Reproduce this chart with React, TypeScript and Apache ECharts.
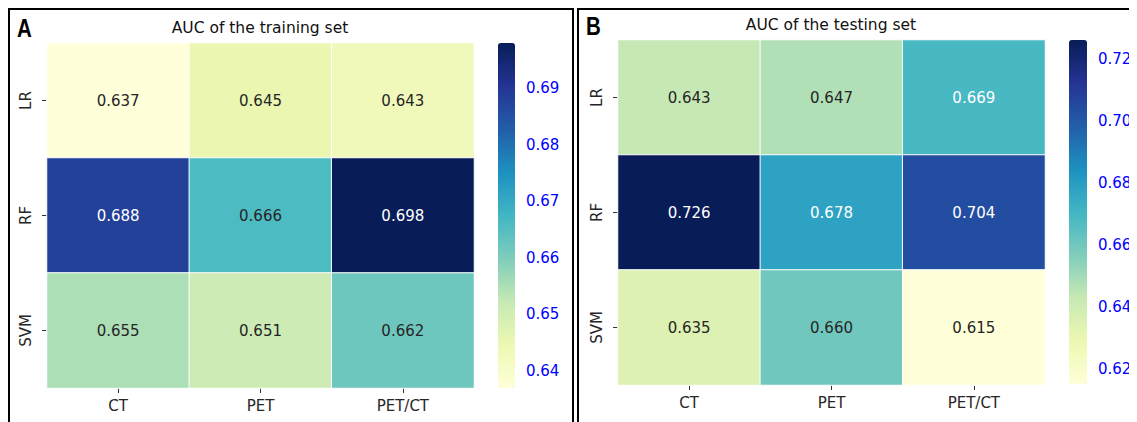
import React, { useEffect, useRef } from 'react';
import * as echarts from 'echarts';

const models = ['LR', 'RF', 'SVM'];
const modalities = ['CT', 'PET', 'PET/CT'];

const trainLR = [0.637, 0.645, 0.643];
const trainRF = [0.688, 0.666, 0.698];
const trainSVM = [0.655, 0.651, 0.662];

const testLR = [0.643, 0.647, 0.669];
const testRF = [0.726, 0.678, 0.704];
const testSVM = [0.635, 0.66, 0.615];

const trainTicks = [0.64, 0.65, 0.66, 0.67, 0.68, 0.69];
const testTicks = [0.62, 0.64, 0.66, 0.68, 0.7, 0.72];

const trainTitle = 'AUC of the training set';
const testTitle = 'AUC of the testing set';

const YLGNBU = ['#ffffd9', '#edf8b1', '#c7e9b4', '#7fcdbb', '#41b6c4', '#1d91c0', '#225ea8', '#253494', '#081d58'];

function hexToRgb(h: string) {
  return [parseInt(h.slice(1, 3), 16), parseInt(h.slice(3, 5), 16), parseInt(h.slice(5, 7), 16)];
}
function cmap(t: number) {
  const n = YLGNBU.length - 1;
  const p = Math.max(0, Math.min(1, t)) * n;
  const i = Math.min(n - 1, Math.floor(p));
  const f = p - i;
  const a = hexToRgb(YLGNBU[i]);
  const b = hexToRgb(YLGNBU[i + 1]);
  return a.map((v, k) => v + (b[k] - v) * f);
}
function lum(rgb: number[]) {
  const c = rgb.map((v) => {
    const s = v / 255;
    return s <= 0.03928 ? s / 12.92 : Math.pow((s + 0.055) / 1.055, 2.4);
  });
  return 0.2126 * c[0] + 0.7152 * c[1] + 0.0722 * c[2];
}

function buildData(rows: number[][]) {
  const all = rows.flat();
  const min = Math.min(...all);
  const max = Math.max(...all);
  const data: any[] = [];
  rows.forEach((row, ri) => {
    row.forEach((v, ci) => {
      const l = lum(cmap((v - min) / (max - min)));
      data.push({ value: [ci, ri, v], label: { color: l > 0.408 ? '#262626' : '#ffffff' } });
    });
  });
  return { data, min, max };
}

const FONT = 'DejaVu Sans';

export default function App() {
  const ref = useRef<HTMLDivElement>(null);
  useEffect(() => {
    if (!ref.current) return;
    const chart = echarts.init(ref.current, null, { renderer: 'svg' });
    const A = buildData([trainLR, trainRF, trainSVM]);
    const B = buildData([testLR, testRF, testSVM]);

    const gA = { left: 47, top: 43, width: 427, height: 345 };
    const gB = { left: 618, top: 40, width: 427, height: 345 };
    const cA = { left: 498, top: 43, width: 17, height: 345 };
    const cB = { left: 1069, top: 40, width: 18, height: 344 };

    const catX = (gi: number) => ({
      type: 'category',
      gridIndex: gi,
      data: modalities,
      axisLine: { show: false },
      axisTick: { show: true, alignWithLabel: true, length: 5, lineStyle: { color: '#333' } },
      axisLabel: { fontSize: 15, color: '#262626', margin: 10, fontFamily: FONT },
      splitLine: { show: false },
    });
    const catY = (gi: number) => ({
      type: 'category',
      gridIndex: gi,
      data: models,
      inverse: true,
      axisLine: { show: false },
      axisTick: { show: true, alignWithLabel: true, length: 5, lineStyle: { color: '#333' } },
      axisLabel: { fontSize: 15, color: '#262626', margin: 14, rotate: 90, fontFamily: FONT },
      splitLine: { show: false },
    });
    const cbY = (gi: number, min: number, max: number, ticks: number[]) => ({
      type: 'value',
      gridIndex: gi,
      position: 'right',
      min,
      max,
      axisLine: { show: false },
      splitLine: { show: false },
      axisTick: { show: true, length: 5, lineStyle: { color: '#333' }, customValues: ticks },
      axisLabel: {
        show: true,
        customValues: ticks,
        color: '#0000ff',
        fontSize: 15,
        margin: 11,
        fontFamily: FONT,
        formatter: (v: number) => v.toFixed(2),
      },
    });
    const cbX = (gi: number) => ({ type: 'value', gridIndex: gi, show: false, min: 0, max: 1 });

    const hm = (gi: number, d: any) => ({
      type: 'heatmap',
      xAxisIndex: gi,
      yAxisIndex: gi,
      data: d.data,
      label: {
        show: true,
        fontSize: 15,
        fontFamily: FONT,
        formatter: (p: any) => p.value[2].toFixed(3),
      },
      itemStyle: { borderColor: '#ffffff', borderWidth: 1 },
      emphasis: { disabled: true },
    });

    const vm = (si: number, d: any, c: any) => ({
      type: 'continuous',
      seriesIndex: si,
      min: d.min,
      max: d.max,
      inRange: { color: YLGNBU },
      left: c.left,
      top: c.top,
      itemWidth: c.width,
      itemHeight: c.height,
      padding: 0,
      calculable: false,
      hoverLink: false,
      realtime: false,
      text: undefined,
      textStyle: { color: 'transparent', fontSize: 0 },
    });

    chart.setOption({
      animation: false,
      textStyle: { fontFamily: FONT },
      tooltip: { show: false },
      grid: [
        { ...gA, containLabel: false },
        { ...gB, containLabel: false },
        { ...cA, containLabel: false },
        { ...cB, containLabel: false },
      ],
      xAxis: [catX(0), catX(1), cbX(2), cbX(3)],
      yAxis: [catY(0), catY(1), cbY(2, A.min, A.max, trainTicks), cbY(3, B.min, B.max, testTicks)],
      visualMap: [vm(0, A, cA), vm(1, B, cB)],
      series: [hm(0, A), hm(1, B)],
      graphic: [
        { type: 'rect', shape: { x: 9, y: 9, width: 564, height: 500 }, style: { fill: 'none', stroke: '#000', lineWidth: 2 }, silent: true },
        { type: 'rect', shape: { x: 578, y: 9, width: 600, height: 500 }, style: { fill: 'none', stroke: '#000', lineWidth: 2 }, silent: true },
        { type: 'text', x: 17, y: 28, scaleX: 0.82, style: { text: 'A', font: 'bold 25px "Liberation Sans"', fill: '#000', textVerticalAlign: 'middle' }, silent: true },
        { type: 'text', x: 586, y: 26.5, scaleX: 0.82, style: { text: 'B', font: 'bold 25px "Liberation Sans"', fill: '#000', textVerticalAlign: 'middle' }, silent: true },
        { type: 'text', x: 260, y: 28, style: { text: trainTitle, font: '15.5px "DejaVu Sans"', fill: '#111', textAlign: 'center', textVerticalAlign: 'middle' }, silent: true },
        { type: 'text', x: 831, y: 25, style: { text: testTitle, font: '15.5px "DejaVu Sans"', fill: '#111', textAlign: 'center', textVerticalAlign: 'middle' }, silent: true },
      ],
    });
    return () => chart.dispose();
  }, []);
  return <div ref={ref} style={{ position: 'relative', margin: '-8px 0 0 -8px', width: 1137, height: 422, background: '#fff' }} />;
}
